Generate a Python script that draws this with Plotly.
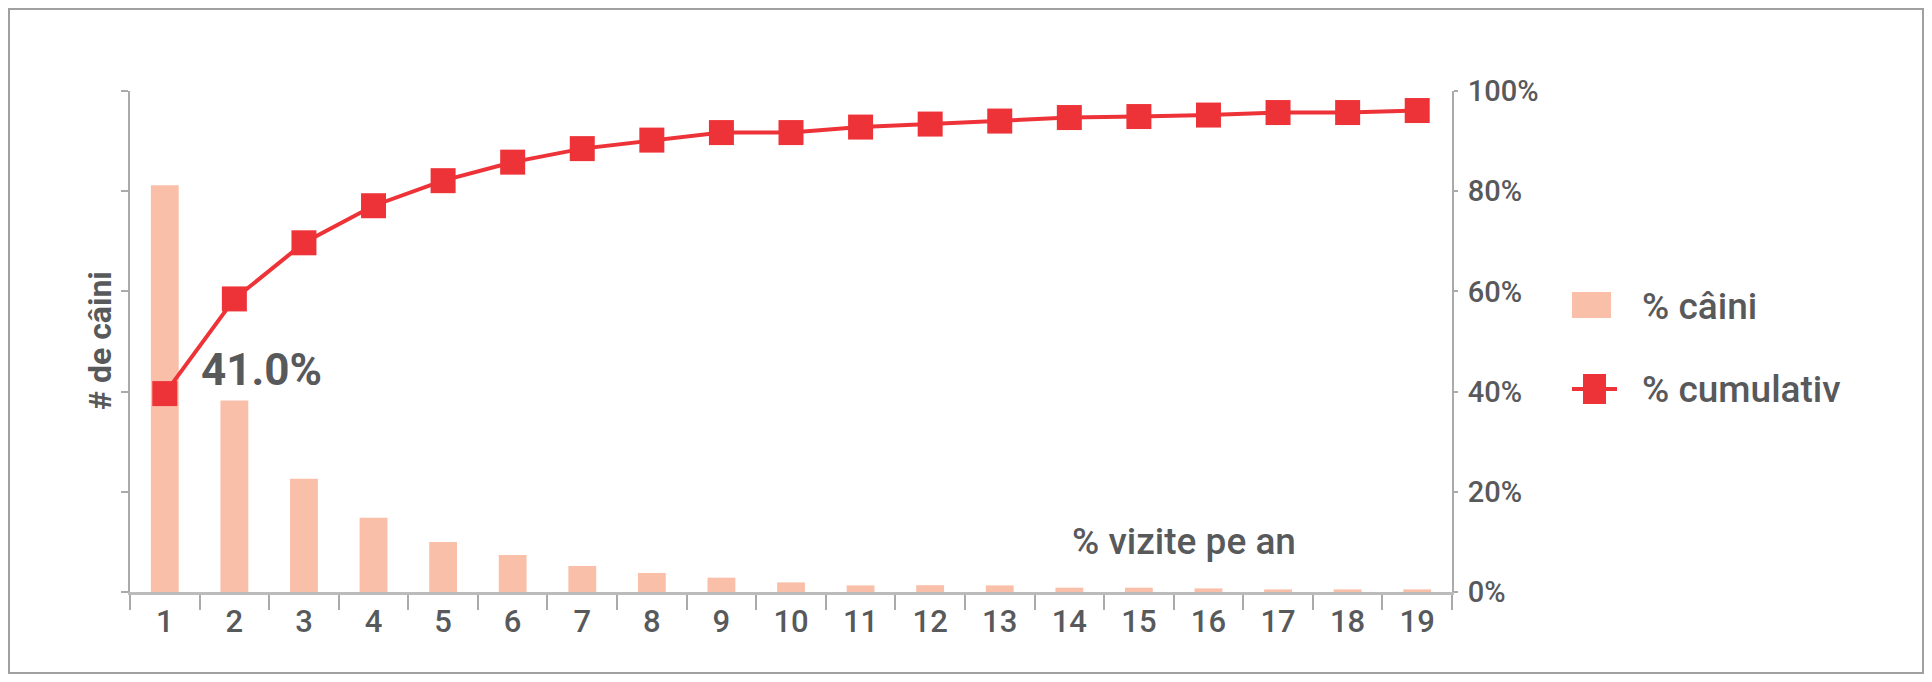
import plotly.graph_objects as go

# Data
visits = [str(i) for i in range(1, 20)]
pct_dogs = [40.6, 19.1, 11.3, 7.4, 5.0, 3.7, 2.6, 1.9, 1.43, 0.96,
            0.66, 0.68, 0.66, 0.43, 0.43, 0.36, 0.26, 0.26, 0.26]
pct_cumulative = [39.6, 58.5, 69.7, 77.1, 82.1, 85.8, 88.5, 90.2, 91.7, 91.7,
                  92.8, 93.4, 94.0, 94.7, 94.9, 95.2, 95.7, 95.7, 96.1]
right_ticks = [0, 20, 40, 60, 80, 100]

# the page body keeps an 8px margin, so the figure is 16px smaller than the window
OFF = 8
W, H = 1932 - 2 * OFF, 682 - 2 * OFF
L, T = 130 - OFF, 91 - OFF
R, B = W - (1452 - OFF), H - (592 - OFF)
PW, PH = W - L - R, H - T - B

GREY_TXT = "#58595B"
AXIS = "#AAAAAA"
RED = "#EE3338"
SALMON = "#F9BFA9"
FONT = "Roboto, 'Liberation Sans', sans-serif"


# convert reference-page pixels to paper coordinates
def px_x(x):
    return (x - OFF - L) / PW


def px_y(y):
    return (H - B - (y - OFF)) / PH


fig = go.Figure()

fig.add_trace(go.Bar(x=visits, y=pct_dogs, name="% câini",
                     marker=dict(color=SALMON, line=dict(width=0)),
                     showlegend=False))
fig.add_trace(go.Scatter(x=visits, y=pct_cumulative, name="% cumulativ", yaxis="y2",
                         mode="lines+markers",
                         line=dict(color=RED, width=4),
                         marker=dict(symbol="square", size=25, color=RED),
                         showlegend=False))

fig.update_layout(
    width=W, height=H,
    margin=dict(l=L, r=R, t=T, b=B),
    paper_bgcolor="white", plot_bgcolor="white",
    bargap=0.6,
    font=dict(family=FONT, color=GREY_TXT),
    xaxis=dict(type="category", range=[-0.5, len(visits) - 0.5], tickson="boundaries",
               ticks="outside", ticklen=15, tickcolor=AXIS, tickwidth=2, showline=True,
               linecolor="#BBBBBB", linewidth=3, showgrid=False,
               tickfont=dict(size=31, color=GREY_TXT, weight=500)),
    yaxis=dict(range=[0, 50], dtick=10, showticklabels=False, ticks="outside", ticklen=7,
               tickcolor=AXIS, tickwidth=2, showline=True, linecolor=AXIS, linewidth=2,
               showgrid=False, zeroline=False),
    yaxis2=dict(overlaying="y", side="right", range=[0, 100], tickvals=right_ticks,
                ticktext=[f"{v}%" for v in right_ticks], ticks="outside", ticklen=4,
                tickcolor=AXIS, tickwidth=2, showline=True, linecolor=AXIS, linewidth=2,
                showgrid=False, zeroline=False, ticklabelstandoff=4,
                tickfont=dict(size=29, color=GREY_TXT, weight=500)),
)

# outer frame
fig.add_shape(type="rect", xref="paper", yref="paper",
              x0=px_x(OFF + 1), x1=px_x(1932 - OFF - 1), y0=px_y(682 - OFF - 1), y1=px_y(OFF + 1),
              line=dict(color="#A0A0A0", width=2), fillcolor="rgba(0,0,0,0)")

# hand-drawn legend
fig.add_shape(type="rect", xref="paper", yref="paper",
              x0=px_x(1572), x1=px_x(1611), y0=px_y(318), y1=px_y(292),
              line=dict(width=0), fillcolor=SALMON)
fig.add_shape(type="line", xref="paper", yref="paper",
              x0=px_x(1572), x1=px_x(1617), y0=px_y(389), y1=px_y(389),
              line=dict(color=RED, width=4))
fig.add_shape(type="rect", xref="paper", yref="paper",
              x0=px_x(1583), x1=px_x(1606), y0=px_y(404), y1=px_y(374),
              line=dict(width=0), fillcolor=RED)

fig.add_annotation(text="% câini", xref="paper", yref="paper", x=px_x(1640), y=px_y(306),
                   xanchor="left", yanchor="middle", showarrow=False,
                   font=dict(size=37, color=GREY_TXT, weight=500))
fig.add_annotation(text="% cumulativ", xref="paper", yref="paper", x=px_x(1640), y=px_y(389),
                   xanchor="left", yanchor="middle", showarrow=False,
                   font=dict(size=37, color=GREY_TXT, weight=500))

# texts
fig.add_annotation(text="# de câini", xref="paper", yref="paper", x=px_x(100), y=px_y(341),
                   textangle=-90, xanchor="center", yanchor="middle", showarrow=False,
                   font=dict(size=32, color=GREY_TXT, weight="bold"))
fig.add_annotation(text="41.0%", xref="paper", yref="paper", x=px_x(199), y=px_y(370),
                   xanchor="left", yanchor="middle", showarrow=False,
                   font=dict(size=44, color=GREY_TXT, weight="bold"))
fig.add_annotation(text="% vizite pe an", xref="paper", yref="paper", x=px_x(1184), y=px_y(541),
                   xanchor="center", yanchor="middle", showarrow=False,
                   font=dict(size=37, color=GREY_TXT, weight=500))

fig.write_html("out.html")
